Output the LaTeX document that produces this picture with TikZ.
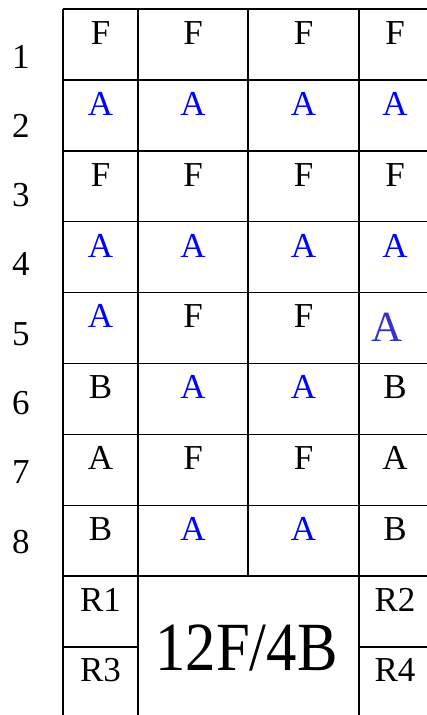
\documentclass[tikz,border=0pt]{standalone}
\usepackage{fontspec}
\usepackage{graphicx}
\setmainfont{Liberation Serif}
\definecolor{seatblue}{RGB}{0,0,255}
\definecolor{oddblue}{RGB}{52,52,200}
\begin{document}
\begin{tikzpicture}[x=1pt,y=-1pt,
  gridline/.style={line width=1.5pt,black},
  celltext/.style={anchor=base,inner sep=0pt,font=\fontsize{35}{42}\selectfont},
  bluetext/.style={celltext,text=seatblue},
  rowlabel/.style={anchor=base,inner sep=0pt,font=\fontsize{35}{42}\selectfont},
  bigtext/.style={anchor=base,inner sep=0pt,font=\fontsize{69}{80}\selectfont}]
\useasboundingbox[fill=white] (0,0) rectangle (426,715);
% horizontal grid lines
\foreach \k in {0,...,8} {
  \draw[gridline] (63,{9+70.9*\k}) -- (432,{9+70.9*\k});
}
\draw[gridline] (63,647) -- (138,647);
\draw[gridline] (359,647) -- (432,647);
% vertical grid lines
\draw[gridline] (63,9) -- (63,716);
\draw[gridline] (138,9) -- (138,716);
\draw[gridline] (248,9) -- (248,576.2);
\draw[gridline] (359,9) -- (359,716);
% row labels
\foreach \k in {1,...,8} {
  \node[rowlabel] (r\k) at (21,{68+69.3*(\k-1)}) {\k};
}
% cells: columns centres 100.5, 193, 303.5, 395
\def\cA{100.5}\def\cB{193}\def\cC{303.5}\def\cD{395}
% row 1
\node[celltext] (c11) at (\cA,44) {F};
\node[celltext] (c12) at (\cB,44) {F};
\node[celltext] (c13) at (\cC,44) {F};
\node[celltext] (c14) at (\cD,44) {F};
% row 2
\node[bluetext] (c21) at (\cA,115) {A};
\node[bluetext] (c22) at (\cB,115) {A};
\node[bluetext] (c23) at (\cC,115) {A};
\node[bluetext] (c24) at (\cD,115) {A};
% row 3
\node[celltext] (c31) at (\cA,186) {F};
\node[celltext] (c32) at (\cB,186) {F};
\node[celltext] (c33) at (\cC,186) {F};
\node[celltext] (c34) at (\cD,186) {F};
% row 4
\node[bluetext] (c41) at (\cA,257) {A};
\node[bluetext] (c42) at (\cB,257) {A};
\node[bluetext] (c43) at (\cC,257) {A};
\node[bluetext] (c44) at (\cD,257) {A};
% row 5
\node[bluetext] (c51) at (\cA,327.5) {A};
\node[celltext] (c52) at (\cB,327.5) {F};
\node[celltext] (c53) at (\cC,327.5) {F};
\node[anchor=base,inner sep=0pt,text=oddblue,font=\fontsize{43}{50}\selectfont] (c54) at (387.5,341.7) {A};
% row 6
\node[celltext] (c61) at (\cA,398.5) {B};
\node[bluetext] (c62) at (\cB,398.5) {A};
\node[bluetext] (c63) at (\cC,398.5) {A};
\node[celltext] (c64) at (\cD,398.5) {B};
% row 7
\node[celltext] (c71) at (\cA,469.5) {A};
\node[celltext] (c72) at (\cB,469.5) {F};
\node[celltext] (c73) at (\cC,469.5) {F};
\node[celltext] (c74) at (\cD,469.5) {A};
% row 8
\node[celltext] (c81) at (\cA,540.5) {B};
\node[bluetext] (c82) at (\cB,540.5) {A};
\node[bluetext] (c83) at (\cC,540.5) {A};
\node[celltext] (c84) at (\cD,540.5) {B};
% bottom section
\node[celltext] (R1) at (\cA,611) {R1};
\node[celltext] (R2) at (\cD,611) {R2};
\node[celltext] (R3) at (\cA,681) {R3};
\node[celltext] (R4) at (\cD,681) {R4};
\node[bigtext] (total) at (246.5,670.5) {\scalebox{0.88}[1]{12F/4B}};
\end{tikzpicture}
\end{document}
